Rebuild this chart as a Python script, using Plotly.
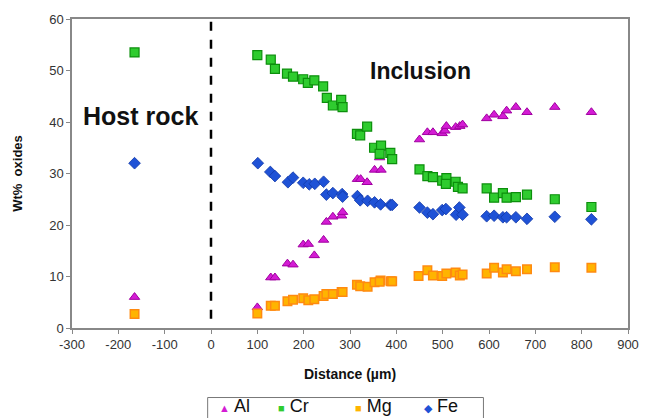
import plotly.graph_objects as go

al_x = [-165, 100, 129, 138, 165, 177, 199, 210, 223, 243, 249, 263, 282, 284, 316, 323, 337, 353, 367, 364,
        450, 467, 479, 499, 505, 508, 528, 537, 543, 595, 611, 630, 638, 658, 682, 742, 821]
al_y = [6.0, 4.0, 9.8, 9.8, 12.5, 12.3, 16.2, 16.3, 14.1, 17.1, 20.6, 21.6, 21.8, 22.5, 28.9, 28.9, 28.3, 30.7, 30.7, 33.1,
        36.6, 38.0, 38.0, 37.8, 38.3, 39.2, 39.0, 39.2, 39.5, 40.7, 41.4, 41.1, 42.2, 42.9, 41.9, 42.9, 41.9]

cr_x = [-165, 100, 129, 138, 164, 177, 199, 209, 223, 242, 250, 263, 281, 284, 315, 322, 337, 352, 367, 364, 387, 391,
        450, 467, 479, 499, 508, 507, 528, 533, 543, 595, 611, 630, 638, 658, 682, 742, 821]
cr_y = [53.5, 53.0, 52.1, 50.3, 49.4, 48.8, 48.3, 47.6, 48.1, 46.9, 44.7, 43.2, 44.3, 42.9, 37.7, 37.4, 39.1, 35.0, 35.4, 33.8, 34.0, 32.8,
        30.8, 29.5, 29.3, 28.6, 29.1, 28.0, 28.4, 27.4, 27.1, 27.1, 25.3, 26.2, 25.3, 25.4, 25.9, 25.0, 23.5]

mg_x = [-165, 100, 129, 138, 165, 177, 199, 210, 223, 243, 249, 263, 282, 284, 315, 322, 338, 353, 366, 364, 388, 391,
        448, 467, 479, 499, 508, 528, 537, 543, 595, 611, 630, 638, 658, 682, 742, 821]
mg_y = [2.7, 2.8, 4.3, 4.3, 5.2, 5.5, 5.8, 5.4, 5.6, 6.2, 6.6, 6.6, 7.0, 7.0, 8.4, 8.1, 8.0, 8.9, 9.2, 9.0, 9.1, 9.1,
        10.1, 11.2, 10.2, 10.1, 10.6, 10.8, 10.2, 10.4, 10.6, 11.7, 10.8, 11.4, 11.0, 11.4, 11.8, 11.7]

fe_x = [-165, 101, 128, 138, 166, 177, 199, 212, 224, 243, 249, 263, 283, 284, 316, 322, 338, 353, 366, 387, 391,
        450, 467, 479, 499, 507, 529, 536, 543, 595, 611, 630, 638, 658, 682, 742, 821]
fe_y = [32.0, 32.0, 30.3, 29.5, 28.3, 29.2, 28.2, 27.9, 28.0, 28.4, 25.9, 26.2, 26.0, 25.5, 25.6, 24.8, 24.7, 24.4, 24.0, 23.9, 23.9,
        23.4, 22.4, 22.1, 22.9, 23.1, 22.0, 23.4, 22.0, 21.7, 21.8, 21.5, 21.5, 21.5, 21.2, 21.6, 21.1]

x_ticks = [-300, -200, -100, 0, 100, 200, 300, 400, 500, 600, 700, 800, 900]
x_tick_labels = ["-300", "-200", "-100", "0", "100", "200", "300", "400", "500", "600", "700", "800", "900"]
y_ticks = [0, 10, 20, 30, 40, 50, 60]

series_names = ["Al", "Cr", "Mg", "Fe"]
series_colors = ["#d41cd4", "#2fcc2f", "#ffb400", "#1f52d6"]
series_glyphs = ["▲", "■", "■", "◆"]

fig = go.Figure()
fig.add_trace(go.Scatter(x=al_x, y=al_y, mode="markers", name="Al",
                         marker=dict(symbol="triangle-up", size=9, color="#d41cd4",
                                     line=dict(color="#a000a0", width=1))))
fig.add_trace(go.Scatter(x=cr_x, y=cr_y, mode="markers", name="Cr",
                         marker=dict(symbol="square", size=9, color="#2fcc2f",
                                     line=dict(color="#0c8f0c", width=1.2))))
fig.add_trace(go.Scatter(x=mg_x, y=mg_y, mode="markers", name="Mg",
                         marker=dict(symbol="square", size=8.5, color="#ffb400",
                                     line=dict(color="#ff8a10", width=1.5))))
fig.add_trace(go.Scatter(x=fe_x, y=fe_y, mode="markers", name="Fe",
                         marker=dict(symbol="diamond", size=9, color="#1f52d6",
                                     line=dict(color="#1238a8", width=0.8))))

fig.add_shape(type="line", x0=0, x1=0, y0=1.8, y1=60, xref="x", yref="y",
              line=dict(color="black", width=2.5, dash="dash"))

fig.add_annotation(x=-153, y=41.1, xref="x", yref="y", text="<b>Host rock</b>", showarrow=False,
                   font=dict(family="Arial", size=25, color="#111111"))
fig.add_annotation(x=453, y=50.0, xref="x", yref="y", text="<b>Inclusion</b>", showarrow=False,
                   font=dict(family="Arial", size=23, color="#111111"))

# legend box (manual, cut off at the bottom like the reference)
fig.add_shape(type="rect", xref="paper", yref="paper", x0=0.244, x1=0.740, y0=-0.225, y1=-0.34,
              line=dict(color="#777777", width=1), fillcolor="white")
leg_x = [0.261, 0.367, 0.505, 0.629]
for name, col, glyph, lx in zip(series_names, series_colors, series_glyphs, leg_x):
    fig.add_annotation(x=lx, y=-0.252, xref="paper", yref="paper", xanchor="left", yanchor="middle",
                       showarrow=False,
                       text=f'<span style="color:{col};font-size:11px">{glyph}</span> {name}',
                       font=dict(family="Arial", size=18, color="#111111"))

fig.update_layout(
    width=651, height=418,
    margin=dict(l=72, r=14, t=17, b=90),
    paper_bgcolor="white", plot_bgcolor="white",
    font=dict(family="Arial", color="#222222"),
    showlegend=False,
    xaxis=dict(range=[-300, 900], tickvals=x_ticks, ticktext=x_tick_labels, ticks="outside", ticklen=4,
               tickcolor="#888888", showline=True, linecolor="#888888", linewidth=1.5,
               mirror=True, showgrid=False, zeroline=False,
               tickfont=dict(size=13, color="#333333"),
               title=dict(text="<b>Distance (µm)</b>", font=dict(size=14, color="#111111"), standoff=18)),
    yaxis=dict(range=[0, 60], tickvals=y_ticks, ticks="outside", ticklen=4,
               tickcolor="#888888", showline=True, linecolor="#888888", linewidth=1.5,
               mirror=True, showgrid=False, zeroline=False,
               tickfont=dict(size=13, color="#333333"),
               title=dict(text="<b>Wt%  oxides</b>", font=dict(size=13, color="#111111"), standoff=24)),
)

fig.write_html("out.html")
